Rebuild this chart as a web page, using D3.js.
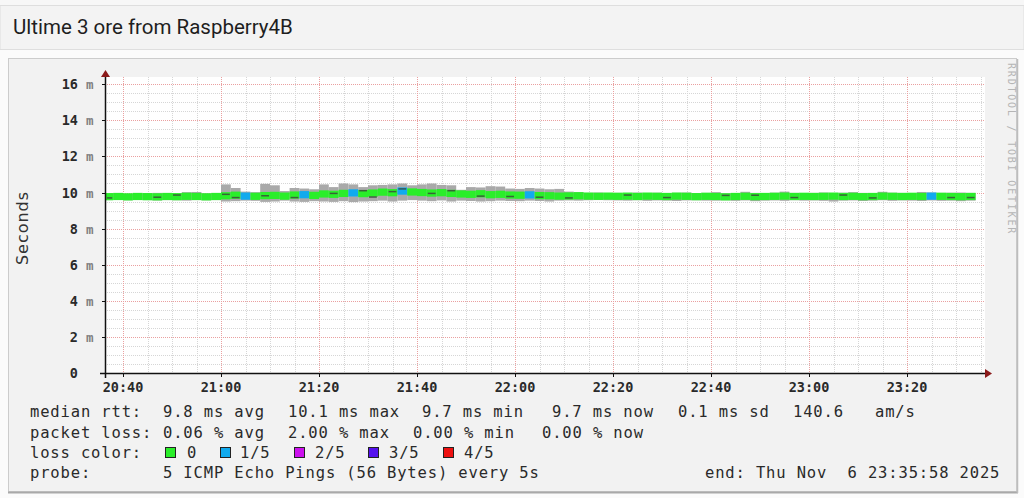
<!DOCTYPE html>
<html><head><meta charset="utf-8">
<script src="https://cdn.jsdelivr.net/npm/d3@7/dist/d3.min.js"></script>
<style>
html,body{margin:0;padding:0;background:#fbfbfb;}
svg{display:block;}
text{white-space:pre;}
</style></head>
<body><svg id="c" width="1024" height="498"></svg>
<script>
// ---------- data ----------
const title = "Ultime 3 ore from Raspberry4B";
const startTime = "2025-11-06T20:36:00";   // first 2-minute bin
const endTime = "2025-11-06T23:36:00";
const binMinutes = 2;
const median = [
 9.77,9.78,9.76,9.78,9.77,9.76,9.78,9.77,9.79,9.78,9.76,9.78,
 9.82,9.85,9.80,9.79,9.83,9.84,9.80,9.86,9.88,9.84,
 9.92,9.90,9.95,9.98,9.94,9.97,10.02,9.99,10.08,10.03,
 10.00,9.97,9.99,9.95,9.92,9.90,9.93,9.88,9.90,9.86,
 9.85,9.87,9.83,9.82,9.80,9.81,9.82,9.80,9.79,9.80,
 9.79,9.80,9.78,9.80,9.79,9.78,9.80,9.79,9.77,9.79,
 9.78,9.76,9.78,9.79,9.77,9.78,9.79,9.80,9.78,9.79,
 9.78,9.79,9.80,9.78,9.79,9.77,9.78,9.80,9.79,9.78,
 9.79,9.78,9.80,9.79,9.78,9.77,9.78];
const smokeHi = [
 9.92,9.95,9.93,9.96,9.95,9.98,9.96,9.94,10.02,10.03,9.95,9.96,
 10.45,10.25,10.05,10.02,10.48,10.40,10.08,10.25,10.22,10.18,
 10.45,10.30,10.50,10.45,10.30,10.40,10.42,10.45,10.50,10.40,
 10.45,10.50,10.42,10.40,10.15,10.30,10.28,10.35,10.33,10.22,
 10.20,10.25,10.22,10.18,10.20,10.05,10.02,9.98,10.00,9.97,
 9.98,9.96,10.00,9.97,9.99,9.96,9.98,10.00,9.97,9.98,
 10.02,9.97,9.96,10.04,9.98,9.97,9.99,10.05,9.98,9.97,
 9.98,10.00,9.97,9.99,10.02,9.98,9.97,10.04,9.99,9.98,
 9.97,10.03,10.00,9.98,9.99,10.00,9.98];
const smokeLo = [
 9.58,9.60,9.57,9.59,9.58,9.56,9.58,9.57,9.55,9.58,9.57,9.58,
 9.50,9.52,9.55,9.54,9.48,9.50,9.55,9.50,9.48,9.52,
 9.50,9.48,9.52,9.47,9.50,9.52,9.55,9.50,9.55,9.58,
 9.55,9.52,9.56,9.50,9.55,9.53,9.50,9.52,9.55,9.53,
 9.52,9.55,9.53,9.50,9.55,9.56,9.55,9.57,9.58,9.57,
 9.56,9.55,9.57,9.54,9.56,9.55,9.53,9.56,9.57,9.55,
 9.55,9.57,9.54,9.56,9.52,9.55,9.56,9.54,9.57,9.55,
 9.56,9.54,9.50,9.55,9.56,9.53,9.55,9.57,9.54,9.56,
 9.55,9.53,9.56,9.54,9.55,9.52,9.55];
// pings lost (out of 5) per bin
const lossCount = [
 0,0,0,0,0,0,0,0,0,0,0,0,
 0,0,1,0,0,0,0,0,1,0,
 0,0,0,1,0,0,0,0,1,0,
 0,0,0,0,0,0,0,0,0,0,
 0,1,0,0,0,0,0,0,0,0,
 0,0,0,0,0,0,0,0,0,0,
 0,0,0,0,0,0,0,0,0,0,
 0,0,0,0,0,0,0,0,0,0,
 0,0,1,0,0,0,0];
// darker individual ping traces
const darkSmoke = [
 9.70,null,null,null,null,9.74,null,9.86,null,null,null,null,
 9.90,9.72,null,null,9.82,null,null,9.72,null,null,
 null,9.95,null,null,10.10,9.75,null,10.05,10.20,null,
 null,9.95,null,10.10,null,null,9.80,null,null,9.78,
 null,null,9.74,null,null,9.70,null,null,null,null,
 null,9.86,null,null,null,9.72,null,null,null,null,
 null,9.84,null,null,9.85,null,null,null,9.72,null,
 null,null,null,9.86,null,null,9.70,null,null,null,
 null,null,null,null,9.72,null,9.72];
const yTicks = [0,2,4,6,8,10,12,14,16];
const yTickSuffix = ["","m","m","m","m","m","m","m","m"];
const lossLabels = ["0","1/5","2/5","3/5","4/5"];
const lossColors = ["#2aee2a","#11aaee","#cc11ee","#5511ee","#ee1111"];
const statRows = [
 [["median rtt:",30],["9.8 ms avg",163],["10.1 ms max",288],["9.7 ms min",422],["9.7 ms now",552],["0.1 ms sd",678],["140.6",793],["am/s",875]],
 [["packet loss:",30],["0.06 % avg",163],["2.00 % max",288],["0.00 % min",413],["0.00 % now",542]],
 [["loss color:",30]],
 [["probe:",30],["5 ICMP Echo Pings (56 Bytes) every 5s",163],["end: Thu Nov  6 23:35:58 2025",705]]
];
const lossLegendX = [165,220,294,368,443];
const lossLabelX = [187,240,315,389,464];

// ---------- drawing ----------
const svg = d3.select("#c");
const parse = d3.isoParse;
const t0 = parse(startTime), t1 = parse(endTime);
const L=105, R=985, T=77, B=373;
const x = d3.scaleTime().domain([t0,t1]).range([103.4,985.4]);
const y = d3.scaleLinear().domain([0,16.4]).range([B,T]);

// header
svg.append("rect").attr("x",0).attr("y",0).attr("width",1024).attr("height",5).attr("fill","#f7f7f7");
svg.append("rect").attr("x",0).attr("y",5.5).attr("width",1024).attr("height",44).attr("fill","#f3f3f3").attr("stroke","#dedede");
svg.append("text").attr("x",13).attr("y",34).attr("font-family","Roboto").attr("font-size",20.5).attr("fill","#1e1e1e").text(title);

// panel
svg.append("rect").attr("x",8.5).attr("y",58.5).attr("width",1008).attr("height",433).attr("fill","#f2f2f2").attr("stroke","#cccccc");
svg.append("line").attr("x1",8).attr("x2",1018).attr("y1",492.5).attr("y2",492.5).attr("stroke","#a9a9a9").attr("stroke-width",2);
svg.append("line").attr("x1",1017.5).attr("x2",1017.5).attr("y1",59).attr("y2",493).attr("stroke","#bdbdbd").attr("stroke-width",1.5);

// plot background
svg.append("rect").attr("x",L).attr("y",T).attr("width",R-L).attr("height",B-T).attr("fill","#ffffff");

const g = svg.append("g");
const yMinor = d3.range(0.5,16.4,0.5).filter(v=>v%2!==0);
g.selectAll(".hmin").data(yMinor).join("line")
 .attr("x1",L).attr("x2",R).attr("y1",d=>Math.round(y(d))+0.5).attr("y2",d=>Math.round(y(d))+0.5)
 .attr("stroke","#d6d6d6").attr("stroke-dasharray","1,1");
const xMinor = d3.timeMinute.every(5).range(t0,t1).filter(d=>x(d)>L+2 && d.getMinutes()%20!==0);
g.selectAll(".vmin").data(xMinor).join("line")
 .attr("y1",T).attr("y2",B).attr("x1",d=>Math.round(x(d))+0.5).attr("x2",d=>Math.round(x(d))+0.5)
 .attr("stroke","#d6d6d6").attr("stroke-dasharray","1,1");
g.selectAll(".hmaj").data(yTicks.filter(v=>v>0)).join("line")
 .attr("x1",L).attr("x2",R).attr("y1",d=>Math.round(y(d))+0.5).attr("y2",d=>Math.round(y(d))+0.5)
 .attr("stroke","#eaa0a0").attr("stroke-dasharray","1,1");
const xMajor = d3.timeMinute.every(20).range(t0,t1).filter(d=>x(d)>L+2);
g.selectAll(".vmaj").data(xMajor).join("line")
 .attr("y1",T).attr("y2",B).attr("x1",d=>Math.round(x(d))+0.5).attr("x2",d=>Math.round(x(d))+0.5)
 .attr("stroke","#eaa0a0").attr("stroke-dasharray","1,1");

// data
const bins = median.map((m,i)=>({
  t: d3.timeMinute.offset(t0,i*binMinutes),
  t2: d3.timeMinute.offset(t0,(i+1)*binMinutes),
  m, hi: smokeHi[i], lo: smokeLo[i], loss: lossCount[i], dk: darkSmoke[i]
}));
const clipX = d=>Math.max(L+1,x(d));
const dg = svg.append("g");
dg.selectAll(".smoke").data(bins).join("rect")
 .attr("x",d=>clipX(d.t)).attr("width",d=>x(d.t2)-clipX(d.t))
 .attr("y",d=>y(d.hi)).attr("height",d=>y(d.lo)-y(d.hi)).attr("fill","#a9a9a9");
dg.selectAll(".med").data(bins).join("rect")
 .attr("x",d=>clipX(d.t)).attr("width",d=>x(d.t2)-clipX(d.t))
 .attr("y",d=>y(d.m+0.2)).attr("height",d=>y(d.m-0.2)-y(d.m+0.2))
 .attr("fill",d=>lossColors[d.loss]);
dg.selectAll(".dark").data(bins.filter(d=>d.dk!=null)).join("rect")
 .attr("x",d=>clipX(d.t)+1).attr("width",d=>x(d.t2)-clipX(d.t)-2)
 .attr("y",d=>y(d.dk)-0.75).attr("height",1.5).attr("fill","#3b4a3b").attr("opacity",0.85);

// axes
const ax = svg.append("g");
ax.append("line").attr("x1",100).attr("x2",986).attr("y1",B+0.5).attr("y2",B+0.5).attr("stroke","#111").attr("stroke-width",1.5);
ax.append("line").attr("x1",L+0.5).attr("x2",L+0.5).attr("y1",B+5).attr("y2",T-1).attr("stroke","#111").attr("stroke-width",1.5);
ax.append("path").attr("d",`M${R},${B-4}L${R+7},${B+0.5}L${R},${B+5}Z`).attr("fill","#8b1a1a");
ax.append("path").attr("d",`M${L-4},${T}L${L+0.5},${T-7}L${L+5},${T}Z`).attr("fill","#8b1a1a");
ax.selectAll(".xt").data(xMajor).join("line")
 .attr("x1",d=>Math.round(x(d))+0.5).attr("x2",d=>Math.round(x(d))+0.5).attr("y1",B).attr("y2",B+4).attr("stroke","#111");
ax.selectAll(".yt").data(yTicks).join("line")
 .attr("x1",L-3).attr("x2",L).attr("y1",d=>Math.round(y(d))+0.5).attr("y2",d=>Math.round(y(d))+0.5).attr("stroke","#111");

const mono = "DejaVu Sans Mono";
ax.selectAll(".xl").data(xMajor).join("text")
 .attr("x",d=>x(d)).attr("y",392).attr("text-anchor","middle")
 .attr("font-family",mono).attr("font-weight","bold").attr("font-size",13.5).attr("fill","#2a2a2a").text(d3.timeFormat("%H:%M"));
ax.selectAll(".yl").data(yTicks).join("text")
 .attr("x",78).attr("y",d=>y(d)+5).attr("text-anchor","end")
 .attr("font-family",mono).attr("font-weight","bold").attr("font-size",13.5).attr("fill","#2a2a2a").text(d=>d);
ax.selectAll(".ys").data(yTicks.filter((d,i)=>yTickSuffix[i])).join("text")
 .attr("x",86).attr("y",d=>y(d)+5)
 .attr("font-family",mono).attr("font-weight","bold").attr("font-size",12.5).attr("fill","#808080").text((d,i)=>yTickSuffix[i+1]);

svg.append("text").attr("transform","translate(28,228) rotate(-90)").attr("text-anchor","middle")
 .attr("font-family","DejaVu Sans").attr("font-size",16).attr("letter-spacing",1).attr("fill","#333").text("Seconds");
svg.append("text").attr("transform","translate(1008,63) rotate(90)")
 .attr("font-family",mono).attr("font-size",10).attr("letter-spacing",1.8).attr("fill","#b5b5b5").text("RRDTOOL / TOBI OETIKER");

// stats legend
const baseY = [417,438,458,478];
statRows.forEach((row,ri)=>{
  row.forEach(([s,px])=>{
    svg.append("text").attr("x",px).attr("y",baseY[ri])
      .attr("font-family",mono).attr("font-size",15.5).attr("letter-spacing",0.85).attr("fill","#2a2a2a").text(s);
  });
});
const lg = svg.append("g");
lg.selectAll("rect").data(lossColors).join("rect")
 .attr("x",(d,i)=>lossLegendX[i]+0.5).attr("y",baseY[2]-10.5).attr("width",10).attr("height",10)
 .attr("fill",d=>d).attr("stroke","#222");
lg.selectAll("text").data(lossLabels).join("text")
 .attr("x",(d,i)=>lossLabelX[i]).attr("y",baseY[2])
 .attr("font-family",mono).attr("font-size",15.5).attr("letter-spacing",0.85).attr("fill","#2a2a2a").text(d=>d);
</script></body></html>
